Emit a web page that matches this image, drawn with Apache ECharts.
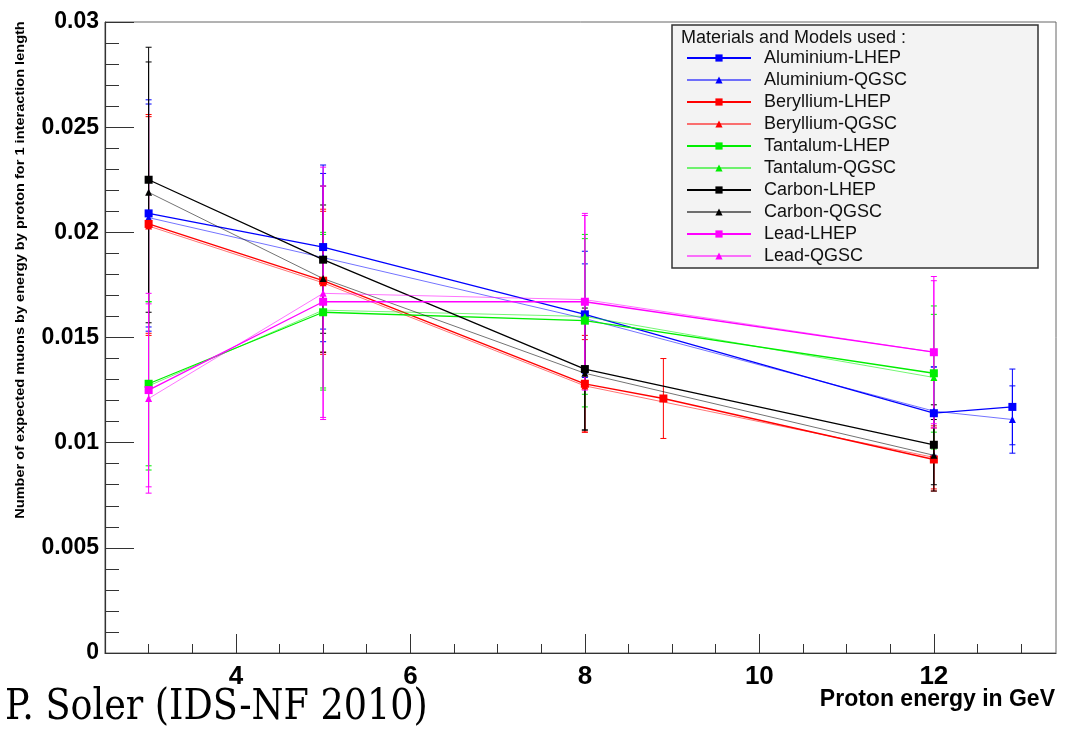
<!DOCTYPE html>
<html><head><meta charset="utf-8">
<script src="https://cdn.jsdelivr.net/npm/echarts@6/dist/echarts.min.js"></script>
<style>html,body{margin:0;padding:0;background:#fff}#c{width:1086px;height:729px}</style>
</head><body><div id="c"></div>
<script>
// ---- data ----
const seriesNames = ['Aluminium-LHEP','Aluminium-QGSC','Beryllium-LHEP','Beryllium-QGSC','Tantalum-LHEP','Tantalum-QGSC','Carbon-LHEP','Carbon-QGSC','Lead-LHEP','Lead-QGSC'];

const alLhepX = [3, 5, 8, 12, 12.9];
const alLhepY = [0.0209, 0.0193, 0.0161, 0.0114, 0.0117];
const alLhepE = [0.0054, 0.0039, 0.0030, 0.0022, 0.0018];

const alQgscX = [3, 5, 8, 12, 12.9];
const alQgscY = [0.0207, 0.0188, 0.0159, 0.0115, 0.0111];
const alQgscE = [0.0054, 0.0040, 0.0026, 0.0021, 0.0016];

const beLhepX = [3, 5, 8, 8.9, 12];
const beLhepY = [0.0204, 0.0177, 0.0128, 0.0121, 0.0092];
const beLhepE = [0.0052, 0.0034, 0.0023, 0.0019, 0.0015];

const beQgscX = [3, 5, 8, 12];
const beQgscY = [0.0203, 0.0176, 0.0127, 0.0093];
const beQgscE = [0.0052, 0.0034, 0.0022, 0.0015];

const taLhepX = [3, 5, 8, 12];
const taLhepY = [0.0128, 0.0162, 0.0158, 0.0133];
const taLhepE = [0.0039, 0.0037, 0.0041, 0.0028];

const taQgscX = [3, 5, 8, 12];
const taQgscY = [0.0127, 0.0163, 0.0160, 0.0131];
const taQgscE = [0.0040, 0.0037, 0.0037, 0.0034];

const cLhepX = [3, 5, 8, 12];
const cLhepY = [0.0225, 0.0187, 0.0135, 0.0099];
const cLhepE = [0.0063, 0.0035, 0.0029, 0.0019];

const cQgscX = [3, 5, 8, 12];
const cQgscY = [0.0219, 0.0178, 0.0133, 0.0094];
const cQgscE = [0.0062, 0.0035, 0.0027, 0.0017];

const pbLhepX = [3, 5, 8, 12];
const pbLhepY = [0.0125, 0.0167, 0.0167, 0.0143];
const pbLhepE = [0.0046, 0.0055, 0.0042, 0.0036];

const pbQgscX = [3, 5, 8, 12];
const pbQgscY = [0.0121, 0.0171, 0.0168, 0.0143];
const pbQgscE = [0.0045, 0.0060, 0.0040, 0.0034];

const xMajorTicks = [4, 6, 8, 10, 12];
const xMinorTicks = [3, 3.5, 4.5, 5, 5.5, 6.5, 7, 7.5, 8.5, 9, 9.5, 10.5, 11, 11.5, 12.5, 13];

// ---- styles ----
const allData = [
  [alLhepX, alLhepY, alLhepE], [alQgscX, alQgscY, alQgscE],
  [beLhepX, beLhepY, beLhepE], [beQgscX, beQgscY, beQgscE],
  [taLhepX, taLhepY, taLhepE], [taQgscX, taQgscY, taQgscE],
  [cLhepX, cLhepY, cLhepE], [cQgscX, cQgscY, cQgscE],
  [pbLhepX, pbLhepY, pbLhepE], [pbQgscX, pbQgscY, pbQgscE]
];
const colors = ['#0000ff','#0000ff','#ff0000','#ff0000','#00ee00','#00ee00','#000000','#000000','#ff00ff','#ff00ff'];
const FONT = 'Liberation Sans, Arial, sans-serif';

function errRender(params, api) {
  const x = api.value(0), y = api.value(1), e = api.value(2);
  const top = api.coord([x, y + e]), bot = api.coord([x, y - e]);
  const w = 3;
  const st = { stroke: api.visual('color'), lineWidth: 1, opacity: api.visual('opacity') };
  return { type: 'group', children: [
    { type: 'line', shape: { x1: top[0], y1: top[1], x2: bot[0], y2: bot[1] }, style: st },
    { type: 'line', shape: { x1: top[0] - w, y1: top[1], x2: top[0] + w, y2: top[1] }, style: st },
    { type: 'line', shape: { x1: bot[0] - w, y1: bot[1], x2: bot[0] + w, y2: bot[1] }, style: st }
  ]};
}

const series = [];
allData.forEach((d, i) => {
  const [xs, ys, es] = d;
  const isQ = i % 2 === 1;
  series.push({
    type: 'custom', renderItem: errRender, xAxisIndex: 0, yAxisIndex: 0,
    itemStyle: { color: colors[i], opacity: isQ ? 0.6 : 1 },
    encode: { x: 0, y: 1 },
    data: xs.map((x, k) => [x, ys[k], es[k]]),
    silent: true, z: 2
  });
  series.push({
    name: seriesNames[i], type: 'line', xAxisIndex: 0, yAxisIndex: 0,
    data: xs.map((x, k) => [x, ys[k]]),
    symbol: isQ ? 'triangle' : 'rect',
    symbolSize: isQ ? 7 : 8,
    itemStyle: { color: colors[i] },
    lineStyle: { color: colors[i], width: isQ ? 1 : 1.3, opacity: isQ ? 0.55 : 1 },
    z: 2
  });
});

const chart = echarts.init(document.getElementById('c'), null, { renderer: 'canvas' });
chart.setOption({
  animation: false,
  backgroundColor: '#ffffff',
  grid: { left: 105, right: 30, top: 22, bottom: 76, show: true, borderColor: '#666', borderWidth: 1, backgroundColor: 'transparent', containLabel: false, outerBoundsMode: 'none' },
  xAxis: [{
    type: 'value', min: 2.5, max: 13.4, position: 'bottom',
    splitLine: { show: false },
    axisLine: { show: true, onZero: false, lineStyle: { color: '#333', width: 1.2 } },
    axisTick: { show: true, inside: true, length: 19, customValues: xMajorTicks, lineStyle: { color: '#333' } },
    axisLabel: { show: true, customValues: xMajorTicks, margin: 11, color: '#000', fontFamily: FONT, fontWeight: 'bold', fontSize: 26 }
  }, {
    type: 'value', min: 2.5, max: 13.4, position: 'bottom', gridIndex: 0,
    splitLine: { show: false },
    axisLine: { show: false },
    axisTick: { show: true, inside: true, length: 9, customValues: xMinorTicks, lineStyle: { color: '#333' } },
    axisLabel: { show: false }
  }],
  yAxis: {
    type: 'value', min: 0, max: 0.03, interval: 0.005,
    splitLine: { show: false },
    axisLine: { show: true, onZero: false, lineStyle: { color: '#333', width: 1.2 } },
    axisTick: { show: true, inside: true, length: 29, lineStyle: { color: '#333' } },
    minorTick: { show: true, splitNumber: 5, length: 14, lineStyle: { color: '#333' } },
    axisLabel: { margin: 6, color: '#000', fontFamily: FONT, fontWeight: 'bold', fontSize: 23,
      formatter: v => String(+v.toFixed(4)) }
  },
  legend: {
    data: seriesNames, orient: 'vertical', left: 686, top: 47,
    itemWidth: 64, itemHeight: 9, itemGap: 0, selectedMode: false,
    padding: 0,
    textStyle: { fontFamily: FONT, fontSize: 18, color: '#111', lineHeight: 22, padding: [0, 0, 0, 8] }
  },
  graphic: [
    { type: 'rect', z: 3, shape: { x: 672, y: 25, width: 366, height: 243 }, style: { fill: '#f3f3f3', stroke: '#333', lineWidth: 1.5 } },
    { type: 'text', z: 5, x: 681, y: 38, style: { text: 'Materials and Models used :', font: '18px ' + FONT, fill: '#111', textAlign: 'left', textVerticalAlign: 'middle' } },
    { type: 'text', z: 5, x: 20, y: 270, rotation: Math.PI / 2, scaleX: 1.12, style: { text: 'Number of expected muons by energy by proton for 1 interaction length', font: 'bold 13px ' + FONT, fill: '#000', textAlign: 'center', textVerticalAlign: 'middle' } },
    { type: 'text', z: 5, x: 1055, y: 700, style: { text: 'Proton energy in GeV', font: 'bold 23px ' + FONT, fill: '#000', textAlign: 'right', textVerticalAlign: 'middle' } },
    { type: 'text', z: 5, x: 5, y: 708, scaleX: 0.87, style: { text: 'P. Soler (IDS-NF 2010)', font: '42px "DejaVu Serif", serif', fill: '#000', textAlign: 'left', textVerticalAlign: 'middle' } }
  ],
  series: series
});
</script>
</body></html>
